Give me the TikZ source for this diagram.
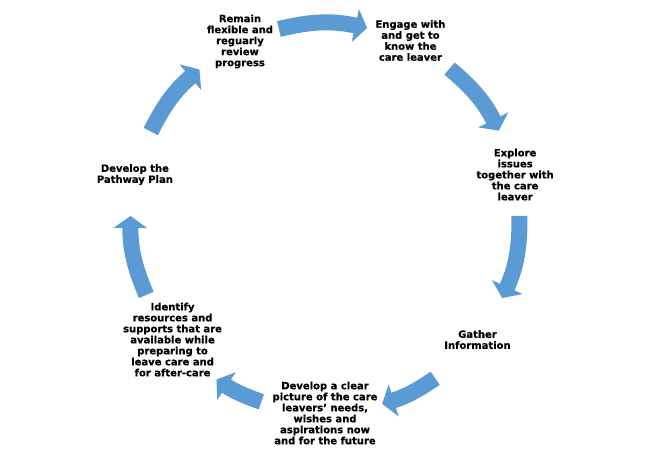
\documentclass[tikz,border=0pt]{standalone}
\usepackage{fontspec}
\setmainfont{DejaVu Sans}[BoldFeatures={FakeBold=0.5}]
\usetikzlibrary{arrows.meta}
\definecolor{cycleblue}{HTML}{5B9BD5}

\begin{document}
\begin{tikzpicture}[x=1pt, y=1pt,
      every node/.style = {align=center,
        font=\bfseries\fontsize{10}{11}\selectfont},
      flow/.style = {draw=cycleblue, line width=16pt,
        -{Triangle[width=33pt,length=12pt]}}]
  \useasboundingbox (-325,-237) rectangle (323,218);
  \node (clear) at (270:195) {Develop a clear\\picture of the care\\leavers’ needs,\\wishes and\\aspirations now\\and for the future};
  \node (identify) at (218.57:195) {Identify\\resources and\\supports that are\\available while\\preparing to\\leave care and\\for after-care};
  \node (pathway) at (167.14:195) {Develop the\\Pathway Plan};
  \node (review) at (115.71:196) {Remain\\flexible and\\reguarly\\review\\progress};
  \node (engage) at (64.29:197) {Engage with\\and get to\\know the\\care leaver};
  \node (explore) at (12.86:195) {Explore\\issues\\together with\\the care\\leaver};
  \node (gather) at (-38.57:195) {Gather\\Information};
  % arrows between the steps
  \foreach \s/\e [count=\k] in {250.9/236.1, 203.3/179.4, 153.6/130.2,
      103.7/77.5, 50.2/26.7, 0.6/-24.3, -55.5/-72.9} {
    \coordinate (tail\k) at (\s:194.5);
    \coordinate (tip\k) at (\e:194.5);
    \draw[flow] (tail\k) to[bend left={(\s-\e)/2}] (tip\k);
  }
\end{tikzpicture}
\end{document}
